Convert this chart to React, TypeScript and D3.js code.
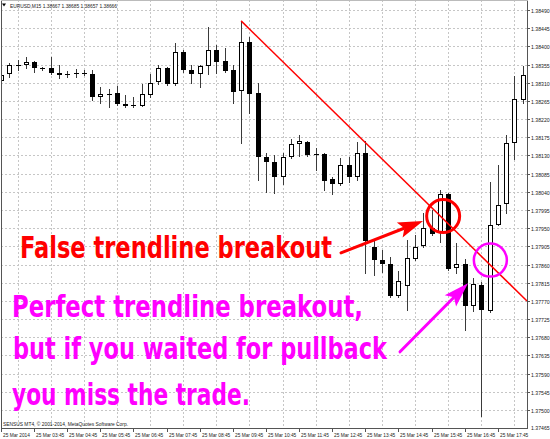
import React, { useEffect, useRef } from 'react';
import * as d3 from 'd3';

// EURUSD M15, 25 Mar 2014, bars from 02:45
const openPrices = [
  1.38314, 1.38332, 1.38354, 1.38353, 1.38361, 1.38346, 1.38346, 1.38334, 1.38332, 1.38334,
  1.38334, 1.38332, 1.38275, 1.38282, 1.38285, 1.38257, 1.38255, 1.38252, 1.3828, 1.38312,
  1.38346, 1.38307, 1.38386, 1.38342, 1.38332, 1.38351, 1.38391, 1.38364, 1.38342, 1.3829,
  1.38411, 1.38285, 1.38126, 1.38114, 1.38077, 1.38126, 1.38158, 1.38163, 1.38134, 1.38134,
  1.38072, 1.38059, 1.38106, 1.38077, 1.38136, 1.37903, 1.37871, 1.37861, 1.37782, 1.37807,
  1.37874, 1.37906, 1.3795, 1.37938, 1.38035, 1.37851, 1.37861, 1.37757, 1.37809, 1.37745,
  1.37958, 1.3801, 1.38161, 1.38267,
];
const highPrices = [
  1.38334, 1.38359, 1.38366, 1.38374, 1.38364, 1.38349, 1.38374, 1.38354, 1.38339, 1.38344,
  1.38342, 1.38342, 1.38299, 1.38295, 1.38302, 1.3828, 1.38275, 1.38307, 1.38332, 1.38354,
  1.38349, 1.38408, 1.38391, 1.38354, 1.38354, 1.38448, 1.38403, 1.38396, 1.38354, 1.3846,
  1.38423, 1.38309, 1.38136, 1.38131, 1.38136, 1.38171, 1.38181, 1.38166, 1.38148, 1.38136,
  1.38077, 1.38124, 1.38126, 1.38163, 1.38166, 1.37923, 1.37896, 1.37879, 1.37844, 1.37921,
  1.37933, 1.37988, 1.37995, 1.38045, 1.38037, 1.37913, 1.37874, 1.37827, 1.37817, 1.38064,
  1.38106, 1.38181, 1.38327, 1.38351,
];
const lowPrices = [
  1.38309, 1.38324, 1.38342, 1.38346, 1.38337, 1.38342, 1.38332, 1.38322, 1.38324, 1.38324,
  1.38329, 1.38267, 1.3826, 1.3825, 1.38255, 1.3825, 1.3825, 1.38252, 1.38275, 1.38307,
  1.38304, 1.38304, 1.38337, 1.38309, 1.38299, 1.38332, 1.38334, 1.38337, 1.3826, 1.38161,
  1.38235, 1.38069, 1.3804, 1.38037, 1.38059, 1.38124, 1.38129, 1.38129, 1.38094, 1.38045,
  1.38035, 1.38057, 1.38064, 1.38069, 1.37839, 1.37834, 1.37842, 1.3778, 1.3778, 1.37748,
  1.37871, 1.37903, 1.37933, 1.37916, 1.37847, 1.37839, 1.37698, 1.37745, 1.37485, 1.37743,
  1.37958, 1.37988, 1.38121, 1.3826,
];
const closePrices = [
  1.38329, 1.38354, 1.38354, 1.38361, 1.38346, 1.38346, 1.38334, 1.38329, 1.38332, 1.38334,
  1.38332, 1.38275, 1.38282, 1.38282, 1.38257, 1.38252, 1.38252, 1.38282, 1.38309, 1.38346,
  1.38307, 1.38386, 1.38342, 1.38332, 1.38351, 1.38391, 1.38361, 1.38339, 1.38287, 1.38411,
  1.38282, 1.38126, 1.38114, 1.38077, 1.38126, 1.38158, 1.38166, 1.38131, 1.38134, 1.38067,
  1.38059, 1.38106, 1.38077, 1.38136, 1.37918, 1.37871, 1.37861, 1.37782, 1.37819, 1.37876,
  1.37903, 1.3795, 1.37936, 1.38035, 1.37849, 1.37861, 1.37757, 1.37812, 1.37748, 1.37958,
  1.38007, 1.38161, 1.3827, 1.38329,
];

const priceTicks = [
  1.3849, 1.38445, 1.384, 1.38355, 1.3831, 1.38265, 1.3822, 1.38175, 1.3813, 1.38085,
  1.3804, 1.37995, 1.3795, 1.37905, 1.3786, 1.37815, 1.3777, 1.37725, 1.3768, 1.37635,
  1.3759, 1.37545, 1.375,
];
const bottomPriceLabel = '1.37465';
const timeLabels = [
  '25 Mar 2014', '25 Mar 03:45', '25 Mar 04:45', '25 Mar 05:45', '25 Mar 06:45', '25 Mar 07:45',
  '25 Mar 08:45', '25 Mar 09:45', '25 Mar 10:45', '25 Mar 11:45', '25 Mar 12:45', '25 Mar 13:45',
  '25 Mar 14:45', '25 Mar 15:45', '25 Mar 16:45', '25 Mar 17:45',
];
const chartTitle = 'EURUSD,M15  1.38667 1.38685 1.38657 1.38666';
const copyright = 'SENSUS MT4, \u00a9 2001-2014, MetaQuotes Software Corp.';

// trendline anchors (bar index, price) drawn as a ray
const trendBars = [29, 54];
const trendPrices = [1.38463, 1.37961];

// hand drawn marks: [bar, price]
const falseCircle = { bar: 53.4, price: 1.3798 };
const perfectCircle = { bar: 59.1, price: 1.37871 };
const falseArrow = { from: [41.06, 1.37889], to: [50.97, 1.37968] };
const perfectArrow = { from: [48.19, 1.37644], to: [56.4, 1.37814] };

const W = 550;
const H = 439;
const plot = { left: 1, top: 0, right: 527, bottom: 428 };
const bigFont = "'Liberation Sans Narrow','DejaVu Sans Condensed','Roboto Condensed','Liberation Sans',sans-serif";
const smallFont = "'Liberation Sans Narrow','Liberation Sans',sans-serif";

const App: React.FC = () => {
  const svgRef = useRef<SVGSVGElement>(null);

  useEffect(() => {
    if (!svgRef.current) return;
    const svg = d3.select(svgRef.current);
    svg.selectAll('*').remove();

    const x = d3.scaleLinear().domain([0, 63]).range([1, 522.64]);
    const y = d3.scaleLinear().domain([1.375, 1.3849]).range([410, 10]);
    const crisp = (v: number) => Math.round(v) + 0.5;

    svg.append('rect').attr('width', W).attr('height', H).attr('fill', '#fff');

    svg.append('defs').append('clipPath').attr('id', 'plot-clip').append('rect')
      .attr('x', plot.left).attr('y', plot.top)
      .attr('width', plot.right - plot.left).attr('height', plot.bottom - plot.top);

    // grid
    const grid = svg.append('g').attr('stroke', '#c6c6c6').attr('stroke-dasharray', '2,2').attr('stroke-width', 1);
    priceTicks.forEach(p => {
      grid.append('line').attr('x1', plot.left).attr('x2', plot.right)
        .attr('y1', crisp(y(p))).attr('y2', crisp(y(p)));
    });
    d3.range(2, 64, 4).forEach(b => {
      grid.append('line').attr('y1', plot.top).attr('y2', plot.bottom)
        .attr('x1', crisp(x(b))).attr('x2', crisp(x(b)));
    });

    // candles
    const bars = svg.append('g').attr('clip-path', 'url(#plot-clip)');
    openPrices.forEach((o, i) => {
      const c = closePrices[i];
      const cx = Math.round(x(i));
      bars.append('line').attr('x1', cx + 0.5).attr('x2', cx + 0.5)
        .attr('y1', Math.round(y(highPrices[i]))).attr('y2', Math.round(y(lowPrices[i])) + 1)
        .attr('stroke', '#3a3a3a').attr('stroke-width', 1);
      const top = Math.round(y(Math.max(o, c)));
      const bot = Math.round(y(Math.min(o, c)));
      if (bot - top < 1) {
        bars.append('line').attr('x1', cx - 2).attr('x2', cx + 3)
          .attr('y1', top + 0.5).attr('y2', top + 0.5).attr('stroke', '#000');
      } else if (c > o) {
        bars.append('rect').attr('x', cx - 1.5).attr('y', top + 0.5)
          .attr('width', 4).attr('height', Math.max(1, bot - top - 1))
          .attr('fill', '#fff').attr('stroke', '#000').attr('stroke-width', 1);
      } else {
        bars.append('rect').attr('x', cx - 2).attr('y', top)
          .attr('width', 5).attr('height', bot - top).attr('fill', '#000');
      }
    });

    // trendline ray
    const tx0 = x(trendBars[0]), ty0 = y(trendPrices[0]);
    const slope = (y(trendPrices[1]) - ty0) / (x(trendBars[1]) - tx0);
    svg.append('line').attr('clip-path', 'url(#plot-clip)')
      .attr('x1', tx0).attr('y1', ty0).attr('x2', plot.right).attr('y2', ty0 + slope * (plot.right - tx0))
      .attr('stroke', '#ff0000').attr('stroke-width', 1.5);

    // frame
    const frame = svg.append('g').attr('stroke', '#555').attr('stroke-width', 1);
    frame.append('line').attr('x1', 1.5).attr('x2', 1.5).attr('y1', 0).attr('y2', plot.bottom);
    frame.append('line').attr('x1', plot.right + 0.5).attr('x2', plot.right + 0.5).attr('y1', 0).attr('y2', plot.bottom + 1);
    frame.append('line').attr('x1', 1).attr('x2', plot.right + 1).attr('y1', plot.bottom + 0.5).attr('y2', plot.bottom + 0.5);
    frame.append('line').attr('x1', 1).attr('x2', plot.right + 1).attr('y1', 0.5).attr('y2', 0.5).attr('stroke', '#bbb');

    // price axis
    const axis = svg.append('g').attr('font-family', smallFont).attr('fill', '#222');
    priceTicks.forEach(p => {
      const yy = crisp(y(p));
      axis.append('line').attr('x1', plot.right).attr('x2', plot.right + 3).attr('y1', yy).attr('y2', yy)
        .attr('stroke', '#555');
      axis.append('text').attr('x', 531).attr('y', yy + 2).attr('font-size', 5.2).text(p.toFixed(5));
    });
    axis.append('text').attr('x', 531).attr('y', plot.bottom + 1.5).attr('font-size', 5.2).text(bottomPriceLabel);

    // time axis
    timeLabels.forEach((t, k) => {
      const xx = crisp(x(k * 4));
      axis.append('line').attr('x1', xx).attr('x2', xx).attr('y1', plot.bottom).attr('y2', plot.bottom + 4)
        .attr('stroke', '#555');
      axis.append('text').attr('x', xx + 1.5).attr('y', 437).attr('font-size', 4.8).text(t);
    });

    // header + copyright
    svg.append('path').attr('d', 'M2,3.5 L6,3.5 L4,6.5 Z').attr('fill', '#000');
    axis.append('text').attr('x', 10).attr('y', 7.5).attr('font-size', 5)
      .attr('textLength', 107).attr('lengthAdjust', 'spacingAndGlyphs').text(chartTitle);
    axis.append('text').attr('x', 3).attr('y', 425.5).attr('font-size', 5)
      .attr('textLength', 125).attr('lengthAdjust', 'spacingAndGlyphs').text(copyright);

    // annotations
    const arrow = (a: { from: number[]; to: number[] }, color: string) => {
      const x1 = x(a.from[0]), y1 = y(a.from[1]);
      const x2 = x(a.to[0]), y2 = y(a.to[1]);
      const len = Math.hypot(x2 - x1, y2 - y1);
      const ux = (x2 - x1) / len, uy = (y2 - y1) / len;
      const head = 25, half = 8;
      const bx = x2 - ux * head, by = y2 - uy * head;
      svg.append('line').attr('x1', x1).attr('y1', y1).attr('x2', bx + ux * 4).attr('y2', by + uy * 4)
        .attr('stroke', color).attr('stroke-width', 3).attr('stroke-linecap', 'round');
      const pts: [number, number][] = [
        [x2, y2],
        [bx - uy * half, by + ux * half],
        [bx + ux * 5, by + uy * 5],
        [bx + uy * half, by - ux * half],
      ];
      svg.append('path').attr('d', d3.line()(pts) + 'Z').attr('fill', color);
    };
    arrow(falseArrow, '#ff0000');
    arrow(perfectArrow, '#ff00ff');

    svg.append('circle').attr('cx', x(falseCircle.bar)).attr('cy', y(falseCircle.price)).attr('r', 16.5)
      .attr('fill', 'none').attr('stroke', '#ff0000').attr('stroke-width', 3);
    svg.append('circle').attr('cx', x(perfectCircle.bar)).attr('cy', y(perfectCircle.price)).attr('r', 16.5)
      .attr('fill', 'none').attr('stroke', '#ff00ff').attr('stroke-width', 2.5);

    const big = svg.append('g').attr('font-family', bigFont).attr('font-weight', 'bold').attr('font-size', 30);
    big.append('text').attr('x', 20).attr('y', 258).attr('fill', '#ff0000')
      .attr('textLength', 312).attr('lengthAdjust', 'spacingAndGlyphs').text('False trendline breakout');
    big.append('text').attr('x', 12).attr('y', 317).attr('fill', '#ff00ff')
      .attr('textLength', 351).attr('lengthAdjust', 'spacingAndGlyphs').text('Perfect trendline breakout,');
    big.append('text').attr('x', 13).attr('y', 359).attr('fill', '#ff00ff')
      .attr('textLength', 374).attr('lengthAdjust', 'spacingAndGlyphs').text('but if you waited for pullback');
    big.append('text').attr('x', 12).attr('y', 405).attr('fill', '#ff00ff')
      .attr('textLength', 238).attr('lengthAdjust', 'spacingAndGlyphs').text('you miss the trade.');
  }, []);

  return (
    <div style={{ position: 'absolute', left: 0, top: 0, width: W, height: H, background: '#fff' }}>
      <svg ref={svgRef} width={W} height={H} style={{ display: 'block' }}></svg>
    </div>
  );
};

export default App;
